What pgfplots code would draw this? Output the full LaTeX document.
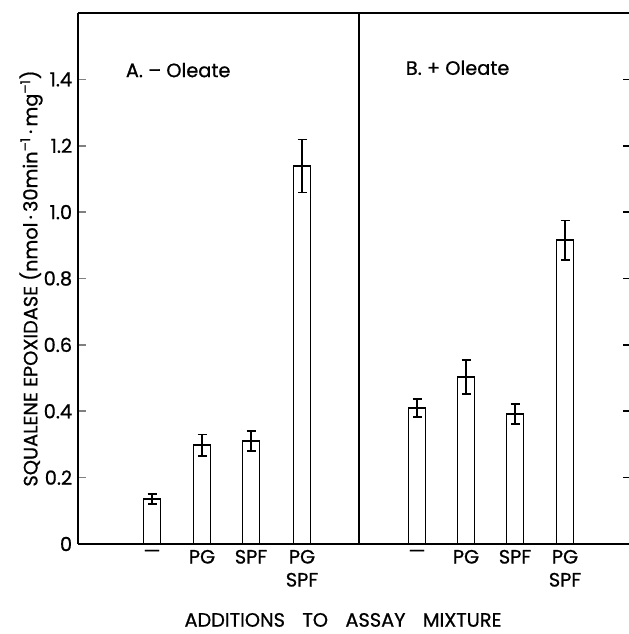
\documentclass[border=0pt]{standalone}
\usepackage{fontspec}
\setmainfont{Poppins}[FakeBold=0.8]
\usepackage{pgfplots}
\pgfplotsset{compat=1.18}
\newcommand{\ff}{\fontsize{11.6}{14}\selectfont}
\begin{document}
\begin{tikzpicture}[x=1pt,y=1pt]
\path[use as bounding box] (-46.8,-54) rectangle (330.6,326.4);
\begin{axis}[
  scale only axis, width=330.6pt, height=318.6pt,
  at={(0,0)}, anchor=south west,
  xmin=0, xmax=551, ymin=0, ymax=1.6,
  separate axis lines,
  y axis line style={draw=none},
  x axis line style={line width=1.2pt},
  xtick={74,124,173,224,339,388,437,487},
  xticklabels={\textemdash,PG,SPF,{PG\\SPF},\textemdash,PG,SPF,{PG\\SPF}},
  xticklabel style={align=center, font=\fontsize{11.6}{13.8}\selectfont, anchor=north, yshift=0pt},
  x tick style={draw=none},
  ytick={0,0.2,0.4,0.6,0.8,1.0,1.2,1.4},
  yticklabels={0,0.2,0.4,0.6,0.8,1.0,1.2,1.4},
  yticklabel style={font=\ff},
  ytick pos=left, tick align=inside,
  major tick length=4.8pt,
  y tick style={line width=1pt},
  ylabel={SQUALENE EPOXIDASE (nmol\,·\,30min\textsuperscript{\textendash1}\,·\,mg\textsuperscript{\textendash1})},
  ylabel style={at={(axis description cs:-0.0853,0.5)}, anchor=center, font=\ff},
  xlabel={ADDITIONS\hspace{0.9em}TO\hspace{0.9em}ASSAY\hspace{0.9em}MIXTURE},
  xlabel style={at={(axis description cs:0.481,-0.143)}, anchor=center, inner sep=0pt, font=\ff},
  clip=false,
]
\addplot[ybar, bar width=17, draw=black, fill=white, line width=1.1pt,
  error bars/.cd, y dir=both, y explicit,
  error mark options={rotate=90, mark size=2.7pt, line width=1pt},
  error bar style={line width=1pt}]
  coordinates {
  (74,0.136) +- (0,0.015)
  (124,0.298) +- (0,0.032)
  (173,0.310) +- (0,0.030)
  (224,1.139) +- (0,0.080)
  (339,0.410) +- (0,0.027)
  (388,0.503) +- (0,0.052)
  (437,0.392) +- (0,0.030)
  (487,0.915) +- (0,0.060)
  };
\draw[line width=1.2pt] (axis cs:0,0) -- (axis cs:0,1.6);
\draw[line width=1.2pt] (axis cs:281,0) -- (axis cs:281,1.6);
\pgfplotsinvokeforeach{0.2,0.4,0.6,0.8,1.0,1.2,1.4}{
  \draw[line width=1pt] (axis cs:551,#1) -- (axis cs:545,#1);
}
\node[anchor=west, font=\ff] at (axis cs:42,1.428) {A. \textendash\ Oleate};
\node[anchor=west, font=\ff] at (axis cs:322,1.435) {B. + Oleate};
\end{axis}
\end{tikzpicture}
\end{document}
